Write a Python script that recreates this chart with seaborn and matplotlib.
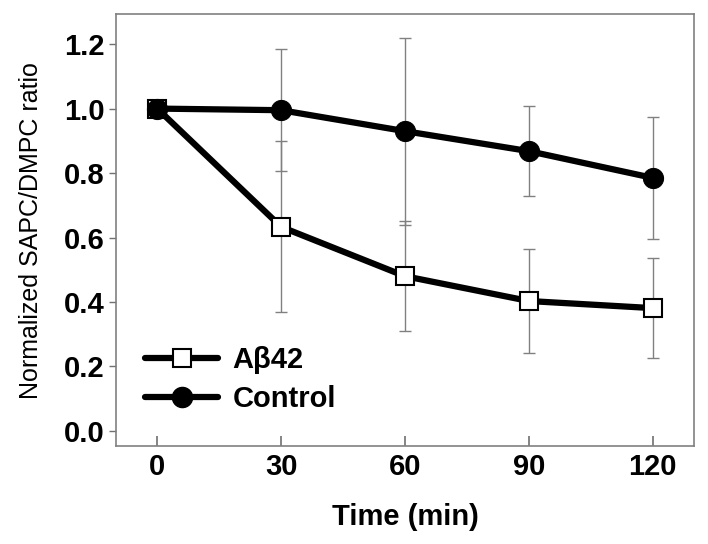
import matplotlib
matplotlib.use("Agg")
import matplotlib.pyplot as plt
import seaborn as sns
import pandas as pd

time_min = [0, 30, 60, 90, 120]
abeta_mean = [1.0, 0.633, 0.48, 0.403, 0.381]
abeta_err = [0.0, 0.265, 0.17, 0.162, 0.155]
control_mean = [1.0, 0.995, 0.93, 0.868, 0.785]
control_err = [0.0, 0.19, 0.29, 0.14, 0.19]
series_names = ["Aβ42", "Control"]
y_ticks = [0.0, 0.2, 0.4, 0.6, 0.8, 1.0, 1.2]

sns.set_style("white")
plt.rcParams['font.family'] = ['Liberation Sans', 'DejaVu Sans']
plt.rcParams['text.color'] = 'black'
plt.rcParams['axes.labelcolor'] = 'black'
plt.rcParams['xtick.labelcolor'] = 'black'
plt.rcParams['ytick.labelcolor'] = 'black'

df = pd.DataFrame({
    "time": time_min * 2,
    "ratio": abeta_mean + control_mean,
    "err": abeta_err + control_err,
    "series": [series_names[0]] * 5 + [series_names[1]] * 5,
})

fig = plt.figure(figsize=(7.08, 5.44), dpi=100)
ax = fig.add_axes([0.1638, 0.180, 0.8165, 0.794])

for name in series_names:
    sub = df[df["series"] == name]
    ax.errorbar(sub["time"], sub["ratio"], yerr=sub["err"], fmt="none",
                ecolor="#808080", elinewidth=1.0, capsize=4, capthick=1.0, zorder=1)

sns.lineplot(data=df, x="time", y="ratio", hue="series", style="series",
             palette={series_names[0]: "black", series_names[1]: "black"},
             markers={series_names[0]: "s", series_names[1]: "o"},
             dashes=False, linewidth=4.5, ax=ax, zorder=3, legend=False)

lines = ax.get_lines()
for ln in lines:
    if ln.get_marker() == "s":
        ln.set_markerfacecolor("white")
        ln.set_markeredgecolor("black")
        ln.set_markersize(12.5)
        ln.set_markeredgewidth(1.5)
    elif ln.get_marker() == "o":
        ln.set_markerfacecolor("black")
        ln.set_markeredgecolor("black")
        ln.set_markersize(14.5)

from matplotlib.lines import Line2D
handles = [
    Line2D([0], [0], color="black", lw=4.5, marker="s", markersize=12.5,
           markerfacecolor="white", markeredgecolor="black", markeredgewidth=1.5),
    Line2D([0], [0], color="black", lw=4.5, marker="o", markersize=14.5,
           markerfacecolor="black", markeredgecolor="black"),
]
leg = ax.legend(handles, series_names, loc="lower left", bbox_to_anchor=(0.005, 0.015),
                frameon=False, handlelength=2.5, handletextpad=0.5, labelspacing=0.38,
                prop={"weight": "bold", "size": 21})

ax.set_xlim(-10, 130)
ax.set_ylim(-0.047, 1.293)
ax.set_xticks(time_min)
ax.set_yticks(y_ticks)
ax.set_yticklabels([f"{v:.1f}" for v in y_ticks])
ax.tick_params(axis="x", direction="in", length=7, width=1.2, color="#707070",
               labelsize=21, pad=5)
ax.tick_params(axis="y", direction="out", length=5, width=1.0, color="#707070",
               labelsize=21, pad=3, left=True)
ax.tick_params(axis="x", bottom=True)
for lbl in ax.get_xticklabels() + ax.get_yticklabels():
    lbl.set_fontweight("bold")
for sp in ax.spines.values():
    sp.set_color("#808080")
    sp.set_linewidth(1.2)

ax.set_xlabel("Time (min)", fontsize=21, fontweight="bold", labelpad=16)
ax.set_ylabel("Normalized SAPC/DMPC ratio", fontsize=18, labelpad=15)

fig.savefig("out.png", dpi=100)
